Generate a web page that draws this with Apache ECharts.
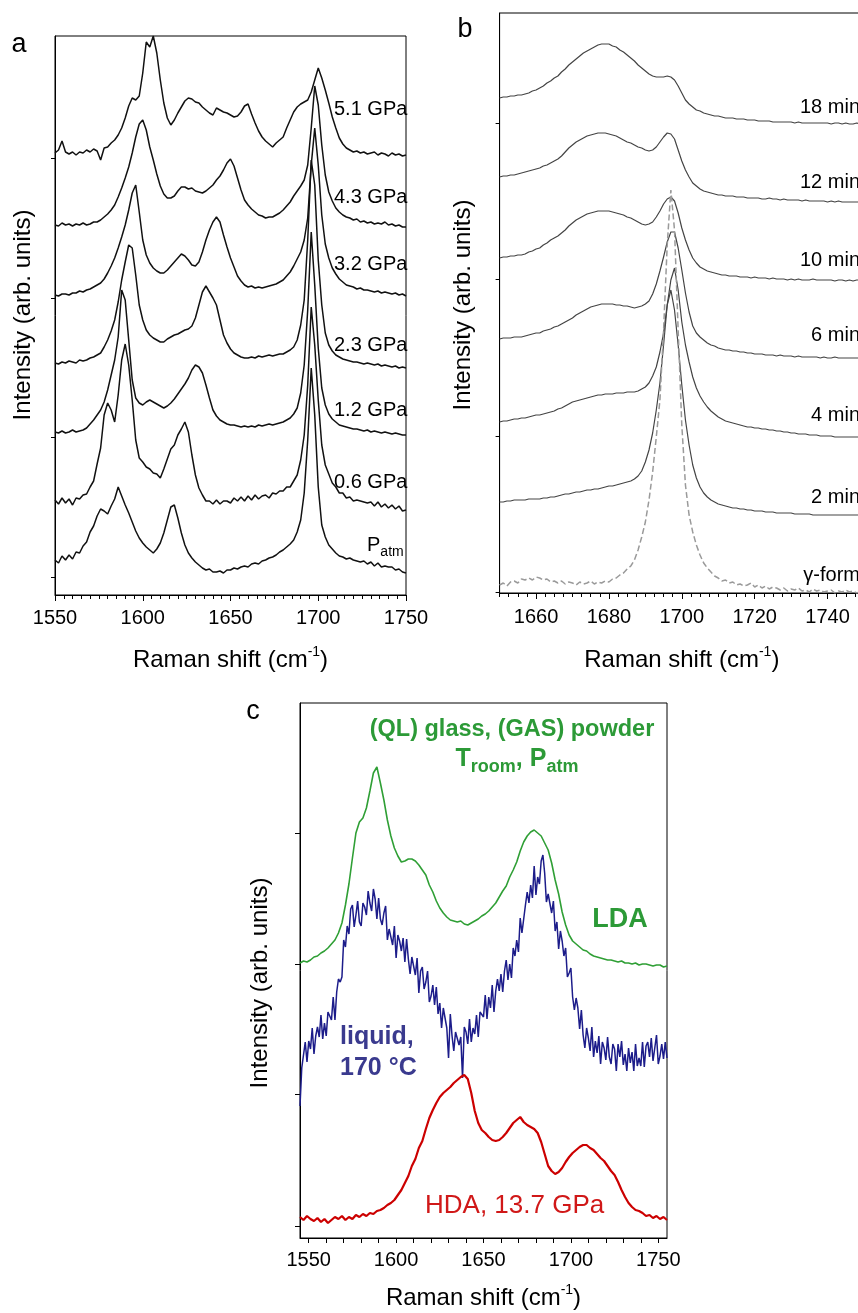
<!DOCTYPE html>
<html><head><meta charset="utf-8">
<script src="https://cdn.jsdelivr.net/npm/echarts@6/dist/echarts.min.js"></script>
<style>html,body{margin:0;padding:0;background:#fff}#c{width:858px;height:1313px}</style>
</head><body><div id="c"></div>
<script>
// ---------- Panel a : Raman spectra vs pressure (x: 1550..1750, step 2) ----------
const A_X0 = 1550, A_STEP = 2;
const aLabels = ['5.1 GPa','4.3 GPa','3.2 GPa','2.3 GPa','1.2 GPa','0.6 GPa','Patm'];
const a51 = [442,445,454,443,441,443,440,443,442,445,
 443,446,444,435,447,448,452,455,460,467,
 477,489,497,495,499,522,553,548,559,542,
 515,492,477,470,475,482,488,494,497,496,
 493,492,488,485,482,480,487,485,483,482,
 480,478,479,483,489,491,481,472,464,458,
 454,451,448,452,455,458,467,475,483,488,
 491,493,495,503,515,527,517,505,492,478,
 467,457,451,447,445,443,444,442,443,441,
 442,443,440,442,441,439,442,440,441,439,
 440];
const a43 = [370,369,372,370,371,369,371,370,372,370,
 371,373,373,375,378,381,385,390,398,407,
 417,428,442,458,471,475,465,448,435,421,
 409,401,397,397,399,404,408,408,406,407,
 404,403,402,404,407,410,415,419,425,432,
 436,429,417,405,395,390,386,383,380,379,
 377,378,378,380,382,385,389,393,399,404,
 409,415,430,467,509,490,450,420,403,394,
 387,383,380,378,377,375,376,373,374,372,
 373,371,372,371,373,370,371,369,370,368,
 368];
const a32 = [300,299,301,301,300,302,302,304,303,305,
 306,308,310,312,316,322,329,337,347,358,
 370,385,402,410,383,355,340,332,327,324,
 322,322,325,329,333,337,341,339,335,330,
 329,333,343,355,365,373,378,373,360,348,
 337,328,319,314,310,308,309,307,308,307,
 308,309,310,311,313,315,319,323,329,336,
 343,355,377,430,467,430,380,351,337,327,
 321,316,313,310,309,308,306,307,305,305,
 304,303,304,302,303,302,301,302,300,301,
 299];
const a23 = [232,231,233,232,234,233,232,235,234,235,
 237,238,240,242,248,255,264,275,293,315,
 333,350,347,320,290,275,265,260,257,255,
 253,253,256,258,260,261,263,265,266,269,
 277,290,303,309,303,297,290,275,260,252,
 246,242,240,238,237,237,238,237,239,238,
 239,240,239,240,241,241,243,245,248,255,
 270,295,355,435,410,335,290,262,250,244,
 240,238,236,235,234,233,233,232,231,232,
 231,230,231,229,230,229,228,229,227,228,
 227];
const a12 = [163,162,164,162,163,165,163,164,165,167,
 171,175,180,185,193,205,220,235,258,305,
 295,255,215,197,192,190,193,195,193,191,
 189,187,189,192,196,201,206,211,217,225,
 230,228,222,210,197,185,179,175,173,171,
 170,170,169,168,169,168,169,168,170,169,
 170,171,170,171,172,173,175,177,181,187,
 202,230,285,363,310,247,207,190,181,176,
 173,170,169,168,167,166,166,165,164,165,
 163,164,163,162,163,162,161,162,161,160,
 160];
const a06 = [95,91,97,92,96,90,97,96,100,101,
 108,114,131,147,180,192,185,173,200,235,
 251,230,195,155,137,133,128,126,122,121,
 117,126,136,146,150,160,166,173,163,140,
 120,107,100,94,94,91,95,91,94,94,
 92,97,94,98,94,99,95,100,96,99,
 100,97,102,101,104,104,108,108,114,120,
 135,160,210,288,250,195,150,130,121,112,
 108,102,102,97,98,94,95,94,93,92,
 93,89,93,88,91,87,90,86,89,84,
 85];
const aPatm = [35,32,39,35,40,36,43,42,49,53,
 63,69,79,86,84,81,89,96,108,99,
 90,82,73,64,57,52,48,45,42,46,
 52,62,75,88,90,77,62,50,42,37,
 33,30,27,25,26,23,23,24,22,25,
 25,27,26,28,29,28,31,32,31,34,
 35,37,38,40,43,45,48,51,55,63,
 75,102,155,227,180,108,70,58,50,46,
 42,39,38,36,37,35,34,33,34,31,
 33,29,32,28,29,28,28,25,26,23,
 22];
const aXLabels = [1550,1600,1650,1700,1750];
const aYTicks = [18,158,297,437];

// ---------- Panel b : time series (x: 1650..1750, step 1) ----------
const B_X0 = 1650, B_STEP = 1;
const bLabels = ['18 min','12 min','10 min','6 min','4 min','2 min','\u03b3-form'];
const b18 = [495,496,496,497,497,498,498,499,500,502,
 503,505,507,510,512,515,517,521,524,528,
 531,534,537,540,542,544,546,548,549,549,
 549,547,546,543,541,538,535,532,528,525,
 522,519,517,516,516,516,517,516,513,507,
 500,493,489,486,483,482,480,479,478,477,
 477,476,475,475,475,474,474,474,473,473,
 473,472,472,472,472,471,471,471,471,471,
 471,470,471,470,470,470,470,470,470,470,
 470,469,470,470,469,470,469,469,470,469,
 469];
const b12 = [416,417,417,418,418,419,420,421,422,423,
 424,425,427,428,430,432,434,437,441,445,
 448,451,453,455,457,458,459,460,460,460,
 459,458,457,455,453,451,450,448,446,445,
 443,442,443,446,451,456,460,459,454,443,
 432,423,416,410,407,404,402,401,400,399,
 398,398,397,397,397,396,396,396,395,395,
 395,395,394,394,395,394,394,393,394,393,
 393,393,393,392,393,392,392,392,392,392,
 391,392,391,392,391,391,391,391,391,391,
 391];
const b10 = [335,336,336,337,337,338,338,339,341,342,
 344,345,348,350,353,355,357,360,363,367,
 370,373,375,377,379,380,381,382,382,382,
 382,381,380,379,378,376,375,373,371,369,
 368,369,371,376,382,389,394,396,392,380,
 365,353,343,335,330,326,324,322,321,320,
 319,318,318,317,317,317,316,316,316,315,
 316,315,315,315,314,315,314,314,314,313,
 314,313,314,313,313,313,314,313,313,313,
 313,313,312,313,313,312,313,312,313,313,
 313];
const b6 = [254,255,255,255,256,256,256,257,258,259,
 260,260,262,263,264,266,267,269,271,273,
 275,278,280,282,284,286,287,288,289,289,
 289,289,288,288,287,287,286,285,286,287,
 289,292,299,309,322,336,351,361,361,345,
 323,300,281,267,260,256,253,250,248,247,
 245,244,243,243,242,242,241,241,240,240,
 239,239,239,238,238,238,237,238,237,237,
 237,236,237,236,236,236,236,236,235,236,
 235,235,236,235,235,235,235,235,235,235,
 235];
const b4 = [171,172,172,173,174,174,175,175,176,177,
 178,178,179,180,181,182,184,185,187,189,
 191,192,193,194,195,196,197,198,198,199,
 199,199,200,200,200,201,201,201,202,204,
 206,210,217,226,241,260,288,313,325,303,
 271,248,231,216,205,197,191,186,182,179,
 176,174,172,171,170,169,168,167,166,166,
 165,165,164,164,163,163,162,162,161,161,
 160,160,159,159,159,158,158,158,157,157,
 157,157,156,156,156,156,156,156,156,156,
 156];
const b2 = [91,91,92,92,93,93,93,93,94,94,
 94,94,95,95,96,96,97,98,99,99,
 100,101,101,102,103,103,104,104,105,106,
 107,107,108,109,110,111,112,114,117,122,
 131,143,160,183,210,248,288,303,283,248,
 208,173,148,128,115,106,100,96,93,91,
 89,88,87,86,85,85,84,84,83,83,
 82,82,82,81,81,81,80,80,80,80,
 80,79,79,79,79,79,78,78,78,78,
 78,78,78,78,78,78,78,78,78,78,
 78];
const bGamma = [8,10,7,11,12,10,14,13,15,13,
 16,15,13,14,11,12,10,12,9,11,
 10,8,11,9,10,12,9,11,10,12,
 11,14,15,18,20,24,27,33,43,56,
 71,93,121,156,193,263,348,403,363,263,
 168,108,78,61,48,38,30,25,21,17,
 15,12,13,10,11,8,9,7,8,10,
 6,8,5,7,4,6,5,3,5,2,
 4,3,5,2,3,1,4,2,3,1,
 2,3,0,2,1,3,1,2,0,1,
 1];
const bXLabels = [1660,1680,1700,1720,1740];
const bYTicks = [1,157,314,470];

// ---------- Panel c : LDA / liquid / HDA ----------
const C_X0 = 1545;
const cLiquid = [132,170,169,196,176,197,189,210,184,202,
 211,201,223,199,215,202,226,222,218,241,
 218,246,259,256,261,298,291,312,304,329,
 333,311,323,337,316,312,335,331,323,347,
 335,327,349,339,319,340,319,313,325,332,
 298,309,310,293,312,280,303,297,287,300,
 276,299,279,264,281,281,263,280,245,267,
 271,249,256,267,236,242,253,233,251,224,
 235,210,230,230,210,180,224,202,187,206,
 207,193,201,160,211,206,194,219,196,210,
 204,223,201,226,225,221,243,219,241,230,
 253,226,247,259,247,264,246,267,278,258,
 274,260,290,282,298,286,320,305,307,333,
 346,335,353,340,372,343,361,354,377,383,
 365,336,344,346,325,337,307,316,289,307,
 297,282,290,261,265,270,241,228,240,230,
 209,228,203,190,210,200,187,211,181,197,
 185,202,174,196,190,178,201,181,174,194,
 189,167,194,181,197,173,184,167,190,175,
 186,167,194,172,180,172,196,171,192,196,
 181,200,177,190,203,174,182,194,179,196,
 180];
const cLDA = [275,277,276,278,281,282,285,287,290,294,
 298,305,315,333,354,380,405,416,420,430,
 447,465,471,455,438,418,402,390,382,376,
 377,379,379,377,373,368,363,353,346,337,
 330,325,321,318,317,316,317,314,313,315,
 317,319,322,324,327,331,335,341,347,352,
 361,368,376,387,396,402,406,408,405,402,
 395,388,375,358,344,326,313,303,297,294,
 291,288,287,284,282,281,280,279,278,278,
 277,276,277,275,275,274,275,273,274,274,
 273,272,273,273,271,272];
const cHDA = [21,18,22,19,17,20,16,19,15,18,
 21,19,22,18,21,19,23,21,24,22,
 25,24,27,28,30,33,35,38,43,48,
 55,62,72,79,90,97,109,120,128,135,
 141,145,148,151,155,158,161,163,159,145,
 127,115,108,105,101,98,97,98,101,105,
 110,115,118,121,116,113,111,109,105,96,
 84,72,67,64,66,70,76,81,85,88,
 91,93,93,90,88,84,80,77,72,67,
 63,56,48,41,35,31,28,27,25,22,
 23,20,22,19,21,18];
const cXLabels = [1550,1600,1650,1700,1750];
const cYTicks = [12,144,274,405];

// ---------- build ----------
const FONT = '"Liberation Sans", Arial, Helvetica, sans-serif';
function pairs(x0, step, vals){ return vals.map((v,i)=>[+(x0+i*step).toFixed(2), v]); }
function range(a,b,s){ const r=[]; for(let v=a; v<=b+1e-9; v+=s) r.push(+v.toFixed(2)); return r; }

const xName = '{n|Raman shift (cm}{s|-1}{n|)}';
const xNameStyle = { fontFamily: FONT, fontSize: 24, color:'#000',
  rich: { n:{fontFamily:FONT, fontSize:24, lineHeight:30, color:'#000'},
          s:{fontFamily:FONT, fontSize:14, lineHeight:14, verticalAlign:'top', color:'#000'} } };
const blk = {color:'#000', width:1};
const lbl = {fontFamily:FONT, fontSize:20, color:'#000', formatter:(v)=>String(v)};

const chart = echarts.init(document.getElementById('c'), null, {renderer:'canvas'});

function lineS(name, xi, yi, data, color, width, dash){
  return { name, type:'line', xAxisIndex:xi, yAxisIndex:yi, data, showSymbol:false, symbol:'none',
    lineStyle:{color, width, type: dash || 'solid'}, animation:false, silent:true, clip:true };
}

const aSeries = [a51,a43,a32,a23,a12,a06,aPatm].map((d,i)=>lineS(aLabels[i],0,0,pairs(A_X0,A_STEP,d),'#111',1.5));
const bSeries = [b18,b12,b10,b6,b4,b2].map((d,i)=>lineS(bLabels[i],2,1,pairs(B_X0,B_STEP,d),'#444',1.2));
bSeries.push(lineS(bLabels[6],2,1,pairs(B_X0,B_STEP,bGamma),'#9a9a9a',1.5,[6,3]));
const cSeries = [
  lineS('LDA',4,2,pairs(C_X0,2,cLDA),'#2f9f35',1.6),
  lineS('liquid',4,2,pairs(C_X0,1,cLiquid),'#1c1c8a',1.5),
  lineS('HDA',4,2,pairs(C_X0,2,cHDA),'#cc0000',2.2)
];

function txt(x,y,text,size,opts){
  return Object.assign({ type:'text', x, y, silent:true,
    style: Object.assign({ text, fontFamily:FONT, fontSize:size, fill:'#000', align:'left', verticalAlign:'middle' }, (opts&&opts.style)||{}) },
    opts && opts.rotation ? {rotation: opts.rotation} : {});
}

const aLabelY = [109,197,264,345,410,482];
const graphics = [
  txt(19,45,'a',27,{style:{align:'center'}}),
  txt(465,30,'b',27,{style:{align:'center'}}),
  txt(253,712,'c',27,{style:{align:'center'}}),
  txt(23,315,'Intensity (arb. units)',24,{rotation:Math.PI/2, style:{align:'center'}}),
  txt(463,305,'Intensity (arb. units)',24,{rotation:Math.PI/2, style:{align:'center'}}),
  txt(260,983,'Intensity (arb. units)',24,{rotation:Math.PI/2, style:{align:'center'}}),
];
aLabelY.forEach((y,i)=>graphics.push(txt(334,y,aLabels[i],20)));
graphics.push(txt(367,545,'{p|P}{s|atm}',20,{style:{rich:{
  p:{fontFamily:FONT,fontSize:20,lineHeight:28,fill:'#000'},
  s:{fontFamily:FONT,fontSize:14,lineHeight:12,verticalAlign:'bottom',fill:'#000'}}}}));
const bLabelY = [107,182,260,335,415,497,575];
bLabelY.forEach((y,i)=>graphics.push(txt(860,y,bLabels[i],20,{style:{align:'right'}})));
const green='#2c9a37', navy='#3a3a8e', red='#d01818';
graphics.push(txt(512,730,'(QL) glass, (GAS) powder',23.5,{style:{align:'center',fill:green,fontWeight:'bold'}}));
graphics.push(txt(517,759,'{t|T}{s|room}{t|, P}{s|atm}',25,{style:{align:'center',fill:green,fontWeight:'bold',rich:{
  t:{fontFamily:FONT,fontSize:25,fontWeight:'bold',lineHeight:34,fill:green},
  s:{fontFamily:FONT,fontSize:18,fontWeight:'bold',lineHeight:14,verticalAlign:'bottom',fill:green}}}}));
graphics.push(txt(620,920,'LDA',27,{style:{align:'center',fill:green,fontWeight:'bold'}}));
graphics.push(txt(340,1037,'liquid,',25,{style:{fill:navy,fontWeight:'bold'}}));
graphics.push(txt(340,1068,'170 \u00b0C',25,{style:{fill:navy,fontWeight:'bold'}}));
graphics.push(txt(425,1206,'HDA, 13.7 GPa',26,{style:{fill:red}}));

const gridBase = {show:true, borderColor:'#000', borderWidth:1, containLabel:false, outerBoundsMode:'none', backgroundColor:'transparent'};
const tickOnly = (gi, mn, mx, vals, len) => ({ gridIndex:gi, type:'value', position:'bottom', min:mn, max:mx,
  axisLine:{show:false}, axisTick:{show:true, length:len, lineStyle:blk, customValues:vals},
  axisLabel:{show:false}, splitLine:{show:false} });

chart.setOption({
  animation:false,
  backgroundColor:'#fff',
  grid:[
    Object.assign({left:55, top:36, width:351, height:559}, gridBase),
    Object.assign({left:499.6, top:13, width:364.4, height:580}, gridBase),
    Object.assign({left:300, top:703, width:367, height:535}, gridBase)
  ],
  xAxis:[
    { gridIndex:0, type:'value', position:'bottom', min:1550, max:1750,
      axisLine:{show:true, lineStyle:blk}, axisTick:{show:true, length:6, lineStyle:blk, customValues:aXLabels},
      axisLabel:Object.assign({margin:13, customValues:aXLabels}, lbl), splitLine:{show:false},
      name:xName, nameLocation:'middle', nameGap:50, nameTextStyle:xNameStyle },
    tickOnly(0, 1550, 1750, range(1550,1750,5), 4),
    { gridIndex:1, type:'value', position:'bottom', min:1650, max:1750,
      axisLine:{show:true, lineStyle:blk}, axisTick:{show:true, length:6, lineStyle:blk, customValues:bXLabels},
      axisLabel:Object.assign({margin:14, customValues:bXLabels}, lbl), splitLine:{show:false},
      name:xName, nameLocation:'middle', nameGap:52, nameTextStyle:xNameStyle },
    tickOnly(1, 1650, 1750, range(1650,1750,2.5), 4),
    { gridIndex:2, type:'value', position:'bottom', min:1545, max:1755,
      axisLine:{show:true, lineStyle:blk}, axisTick:{show:true, length:5, lineStyle:blk, customValues:range(1550,1750,10)},
      axisLabel:Object.assign({margin:12, customValues:cXLabels}, lbl), splitLine:{show:false},
      name:xName, nameLocation:'middle', nameGap:45, nameTextStyle:xNameStyle }
  ],
  yAxis:[
    { gridIndex:0, type:'value', min:0, max:559, axisLine:{show:true, lineStyle:blk},
      axisTick:{show:true, length:4, lineStyle:blk, customValues:aYTicks}, axisLabel:{show:false}, splitLine:{show:false} },
    { gridIndex:1, type:'value', min:0, max:580, axisLine:{show:true, lineStyle:blk},
      axisTick:{show:true, length:4, lineStyle:blk, customValues:bYTicks}, axisLabel:{show:false}, splitLine:{show:false} },
    { gridIndex:2, type:'value', min:0, max:535, axisLine:{show:true, lineStyle:blk},
      axisTick:{show:true, length:5, lineStyle:blk, customValues:cYTicks}, axisLabel:{show:false}, splitLine:{show:false} }
  ],
  series: aSeries.concat(bSeries, cSeries),
  graphic: graphics
});
</script></body></html>
